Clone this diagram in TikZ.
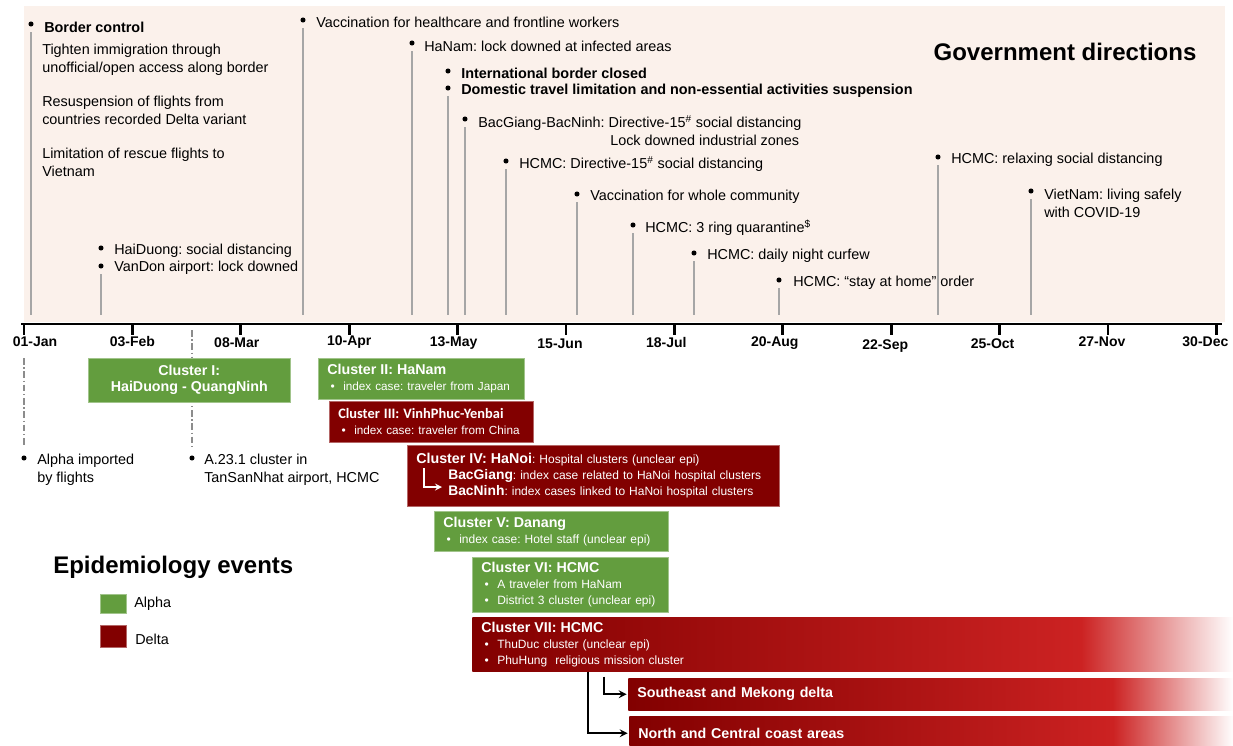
\documentclass[tikz,border=0pt]{standalone}
\usepackage{fontspec}
\setmainfont{Liberation Sans}
\newfontfamily\calibrifont{Carlito}
\usetikzlibrary{positioning}
\frenchspacing
\definecolor{alphagreen}{RGB}{99,157,62}
\definecolor{deltared}{RGB}{130,0,0}
\definecolor{brightred}{RGB}{204,34,34}
\definecolor{govbg}{RGB}{251,241,235}
\definecolor{stemgray}{RGB}{166,166,166}
\pgfdeclarehorizontalshading{deltafade}{100bp}{color(0bp)=(deltared); color(25bp)=(deltared); color(65bp)=(brightred); color(75bp)=(white); color(100bp)=(white)}
\tikzset{>=stealth}
\tikzset{
    dot/.style={circle, fill=black, inner sep=0pt, minimum size=3.8pt},
    govtext/.style={anchor=west, inner sep=0pt, align=left, font=\fontsize{10.8}{13.5}\selectfont},
    govbold/.style={govtext, font=\fontsize{10.8}{13.5}\selectfont\bfseries},
    stem/.style={draw=stemgray, line width=1.1pt, shorten <=4pt},
    epiline/.style={draw=black!45, line width=0.9pt, dash pattern=on 5pt off 2pt on 1pt off 2pt, shorten >=6pt},
    cluster/.style={anchor=north west, inner xsep=6.75pt, inner ysep=0pt, align=left, text=white, font=\fontsize{9}{12}\selectfont},
    alphabox/.style={cluster, fill=alphagreen, draw=alphagreen!60!white, line width=0.4pt},
    deltabox/.style={cluster, fill=deltared, draw=deltared!60!white, line width=0.4pt},
    fadebox/.style={cluster, shade, shading=deltafade},
    bigtitle/.style={font=\fontsize{18}{20}\selectfont\bfseries},
    datelabel/.style={font=\fontsize{10.5}{12}\selectfont\bfseries},
    legbox/.style={inner sep=0pt, minimum width=19.5pt, line width=0.4pt},
    flow/.style={->, line width=1.6pt, shorten >=1pt}
}
\newcommand{\cbul}{\hspace*{2.5pt}\makebox[9.5pt][l]{\textbullet}}
\newcommand{\ctit}[1]{{\fontsize{10.7}{12}\selectfont\bfseries #1}}

\begin{document}
\begin{tikzpicture}[x=0.75pt, y=-0.75pt]
    \useasboundingbox (0,0) rectangle (1233,746);
    \fill[govbg] (24,6) rectangle (1225,322);
    \node[bigtitle] (govtitle) at (1065,52) {Government directions};
    \coordinate (foot) at (0,315);

    \node[dot] (d1) at (31,24) {};
    \node[govbold] (t1) at (44,27) {Border control};
    \node[govtext, anchor=north west] (t1b) at (42,44) {Tighten immigration through\\unofficial/open access along border\\[12pt]Resuspension of flights from\\countries recorded Delta variant\\[12pt]Limitation of rescue flights to\\Vietnam};
    \draw[stem] (d1) -- (d1 |- foot);
    \node[dot] (d2a) at (101,248) {};
    \node[dot] (d2b) at (101,266) {};
    \node[govtext] (t2a) at (114,251) {HaiDuong: social distancing};
    \node[govtext] (t2b) at (114,268) {VanDon airport: lock downed};
    \draw[stem] (d2b) -- (d2b |- foot);
    \node[dot] (d3) at (303,20) {};
    \node[govtext] (t3) at (316,22) {Vaccination for healthcare and frontline workers};
    \draw[stem] (d3) -- (d3 |- foot);
    \node[dot] (d4) at (412,43) {};
    \node[govtext] (t4) at (424,46) {HaNam: lock downed at infected areas};
    \draw[stem] (d4) -- (d4 |- foot);
    \node[dot] (d5a) at (448,71) {};
    \node[dot] (d5b) at (448,88) {};
    \node[govbold] (t5a) at (461,73) {International border closed};
    \node[govbold] (t5b) at (461,91) {Domestic travel limitation and non-essential activities suspension};
    \draw[stem] (d5b) -- (d5b |- foot);
    \node[dot] (d6) at (465,119) {};
    \node[govtext] (t6a) at (478,123) {BacGiang-BacNinh: Directive-15\textsuperscript{\#} social distancing};
    \node[govtext] (t6b) at (610,140) {Lock downed industrial zones};
    \draw[stem] (d6) -- (d6 |- foot);
    \node[dot] (d7) at (506,161) {};
    \node[govtext] (t7) at (519,164) {HCMC: Directive-15\textsuperscript{\#} social distancing};
    \draw[stem] (d7) -- (d7 |- foot);
    \node[dot] (d8) at (577,194) {};
    \node[govtext] (t8) at (590,197) {Vaccination for whole community};
    \draw[stem] (d8) -- (d8 |- foot);
    \node[dot] (d9) at (633,225) {};
    \node[govtext] (t9) at (645,228) {HCMC: 3 ring quarantine\textsuperscript{\$}};
    \draw[stem] (d9) -- (d9 |- foot);
    \node[dot] (d10) at (694,253) {};
    \node[govtext] (t10) at (707,256) {HCMC: daily night curfew};
    \draw[stem] (d10) -- (d10 |- foot);
    \node[dot] (d11) at (779,280) {};
    \node[govtext] (t11) at (793,283) {HCMC: “stay at home” order};
    \draw[stem] (d11) -- (d11 |- foot);
    \node[dot] (d12) at (938,157) {};
    \node[govtext] (t12) at (951,160) {HCMC: relaxing social distancing};
    \draw[stem] (d12) -- (d12 |- foot);
    \node[dot] (d13) at (1031,191) {};
    \node[govtext] (t13) at (1044,203) {VietNam: living safely\\with COVID-19};
    \draw[stem] (d13) -- (d13 |- foot);

    \coordinate (axl) at (21,324);
    \coordinate (axr) at (1222,324);
    \draw[line width=2.2pt] (axl) -- (axr);
    \foreach \i/\d/\dx/\dy in {0/01-Jan/+11/342, 1/03-Feb/+0/342, 2/08-Mar/-4/343, 3/10-Apr/+0/342, 4/13-May/-4/343, 5/15-Jun/-6/344, 6/18-Jul/-8/342, 7/20-Aug/-8/343, 8/22-Sep/-6/346, 9/25-Oct/-7/344, 10/27-Nov/-6/342, 11/30-Dec/-11/342} {
        \draw[line width=2pt] (24+108.4*\i,324) -- (24+108.4*\i,335);
        \node[datelabel] (date\i) at (24+108.4*\i\dx,\dy) {\d};
    }

    \node[dot] (e1) at (24,458) {};
    \node[govtext] (e1t) at (37,470) {Alpha imported\\by flights};
    \coordinate (e1top) at (24,358);
    \draw[epiline] (e1top) -- (e1);
    \node[dot] (e2) at (192,458) {};
    \node[govtext] (e2t) at (204,470) {A.23.1 cluster in\\TanSanNhat airport, HCMC};
    \coordinate (e2top) at (192,330);
    \draw[epiline] (e2top) -- (e2);

    \node[alphabox, text width=138pt, minimum height=33pt, align=center] (c1) at (88,358) {\ctit{Cluster I:}\\\ctit{HaiDuong - QuangNinh}};
    \node[alphabox, text width=141pt, minimum height=30.75pt] (c2) at (318,358) {\ctit{Cluster II: HaNam}\\\cbul{\fontsize{8.8}{12}\selectfont index case: traveler from Japan}};
    \node[deltabox, text width=139.5pt, minimum height=30.75pt] (c3) at (329,401) {{\calibrifont\fontsize{10.8}{12}\selectfont\bfseries Cluster III: VinhPhuc-Yenbai}\\\cbul{\fontsize{8.8}{12}\selectfont index case: traveler from China}};
    \node[deltabox, text width=265.5pt, minimum height=45.75pt] (c4) at (407,445) {\ctit{Cluster IV: HaNoi}: Hospital clusters (unclear epi)\\\hspace*{24pt}{\fontsize{10.4}{12}\selectfont\bfseries BacGiang}: index case related to HaNoi hospital clusters\\\hspace*{24pt}{\fontsize{10.4}{12}\selectfont\bfseries BacNinh}: index cases linked to HaNoi hospital clusters};
    \coordinate (a4s) at ([shift={(17,23)}]c4.north west);
    \coordinate (a4e) at ([shift={(35,42)}]c4.north west);
    \draw[->, white, line width=1.3pt] (a4s) |- (a4e);
    \node[alphabox, text width=162pt, minimum height=30pt] (c5) at (434,511) {\ctit{Cluster V: Danang}\\\cbul index case: Hotel staff (unclear epi)};
    \node[alphabox, text width=133.5pt, minimum height=41.25pt] (c6) at (472,557) {\ctit{Cluster VI: HCMC}\\\cbul A traveler from HaNam\\\cbul District 3 cluster (unclear epi)};
    \node[fadebox, text width=557.25pt, minimum height=40.5pt] (c7) at (472,617) {\ctit{Cluster VII: HCMC}\\\cbul ThuDuc cluster (unclear epi)\\\cbul PhuHung\ \ religious mission cluster};
    \node[fadebox, text width=440.25pt, minimum height=24pt, font=\fontsize{10.7}{12}\selectfont\bfseries] (se) at (628,678) {Southeast and Mekong delta};
    \node[fadebox, text width=440pt, minimum height=25.5pt, font=\fontsize{10.7}{12}\selectfont\bfseries] (nc) at (629,716) {North and Central coast areas};
    \draw[flow] ([shift={(116,0)}]c7.south west) |- (nc.west);
    \draw[flow] ([shift={(132,5)}]c7.south west) |- (se.west);

    \node[bigtitle, anchor=west, inner sep=0pt] (epititle) at (53,567) {Epidemiology events};
    \node[legbox, fill=alphagreen, draw=alphagreen!60!white, minimum height=14.25pt] (lgalpha) at (113,603.5) {};
    \node[legbox, fill=deltared, draw=deltared!60!white, minimum height=16.5pt] (lgdelta) at (113,636) {};
    \node[govtext] (lgalphat) at (134,604) {Alpha};
    \node[govtext] (lgdeltat) at (135,639) {Delta};
\end{tikzpicture}
\end{document}
